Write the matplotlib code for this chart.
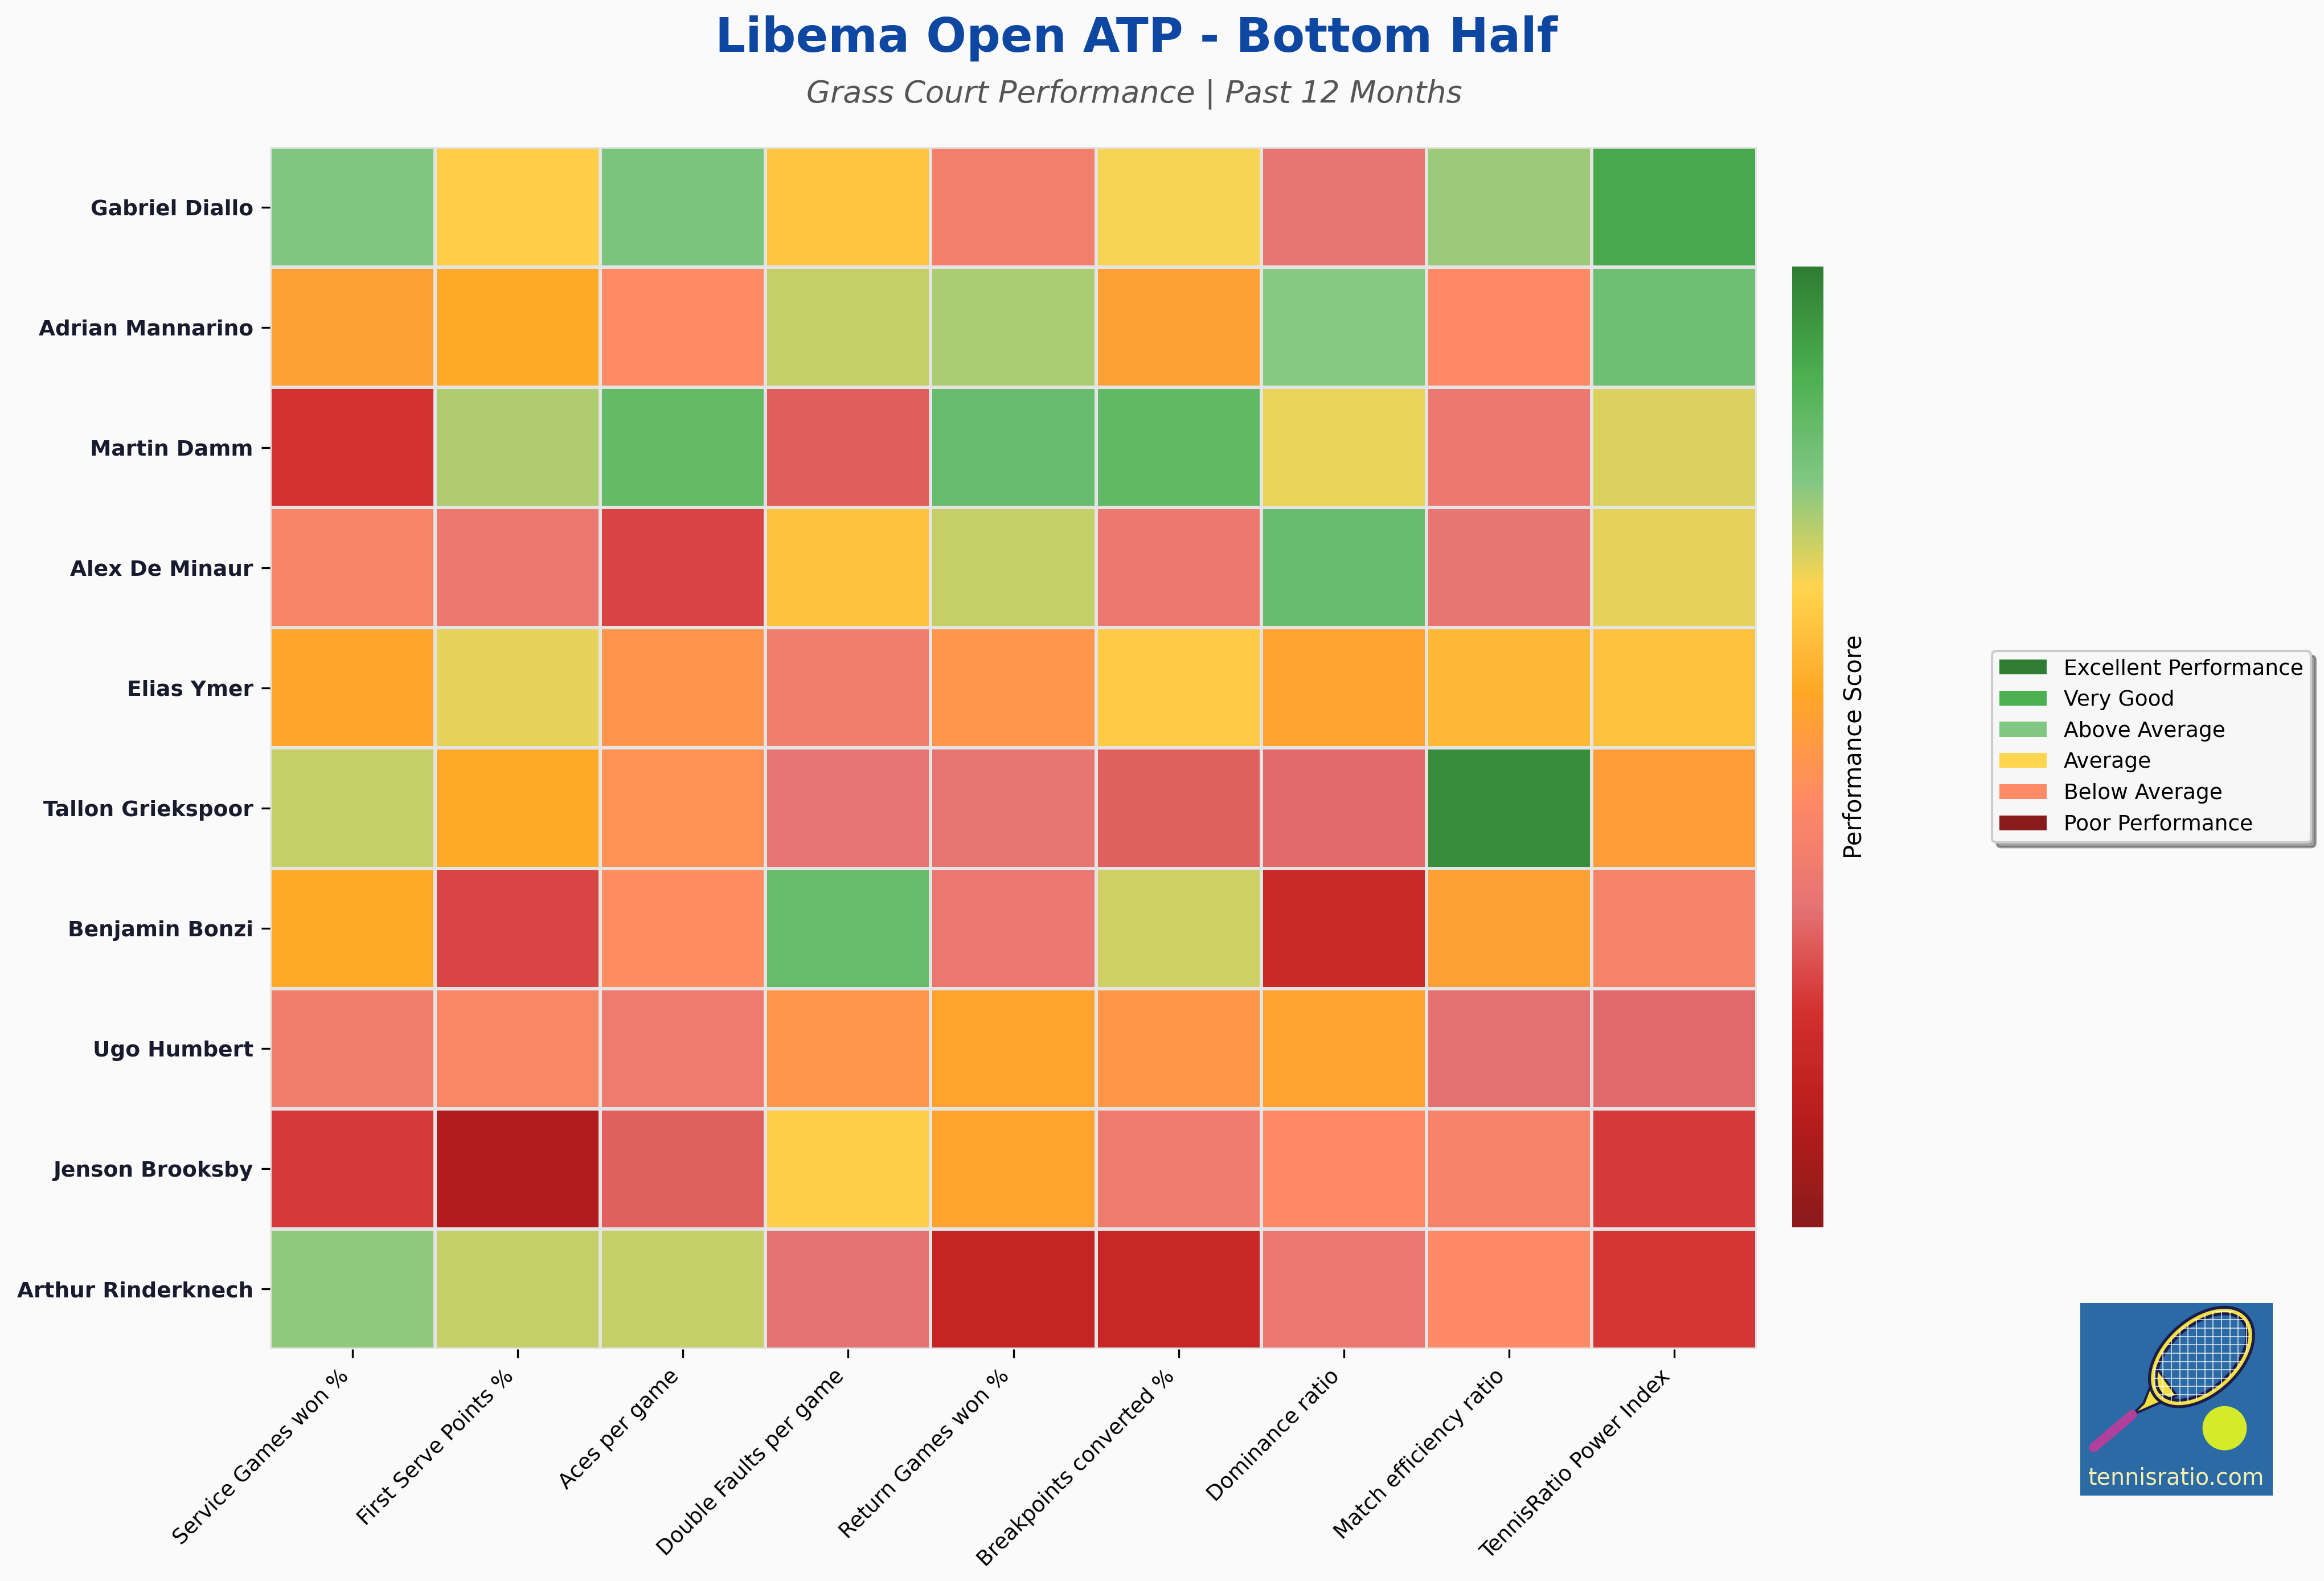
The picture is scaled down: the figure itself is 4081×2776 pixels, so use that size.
import numpy as np
import matplotlib
matplotlib.use("Agg")
import matplotlib.pyplot as plt
from matplotlib.colors import LinearSegmentedColormap
from matplotlib.patches import Patch, Ellipse, Circle, Polygon, Rectangle

# players top to bottom
players = ["Gabriel Diallo", "Adrian Mannarino", "Martin Damm", "Alex De Minaur",
           "Elias Ymer", "Tallon Griekspoor", "Benjamin Bonzi", "Ugo Humbert",
           "Jenson Brooksby", "Arthur Rinderknech"]

metrics = ["Service Games won %", "First Serve Points %", "Aces per game",
           "Double Faults per game", "Return Games won %", "Breakpoints converted %",
           "Dominance ratio", "Match efficiency ratio", "TennisRatio Power Index"]

# performance scores (0 = poor, 1 = excellent), one list per metric
service_games = [0.778, 0.529, 0.230, 0.418, 0.548, 0.718, 0.564, 0.380, 0.242, 0.763]
first_serve = [0.645, 0.564, 0.737, 0.363, 0.690, 0.564, 0.260, 0.425, 0.099, 0.718]
aces = [0.790, 0.446, 0.839, 0.254, 0.486, 0.475, 0.455, 0.372, 0.303, 0.718]
double_faults = [0.628, 0.715, 0.299, 0.621, 0.380, 0.337, 0.830, 0.490, 0.652, 0.333]
return_games = [0.389, 0.741, 0.826, 0.718, 0.490, 0.340, 0.353, 0.540, 0.540, 0.162]
breakpoints = [0.674, 0.529, 0.840, 0.363, 0.638, 0.304, 0.708, 0.494, 0.372, 0.178]
dominance = [0.342, 0.770, 0.687, 0.826, 0.537, 0.320, 0.190, 0.537, 0.444, 0.357]
match_eff = [0.750, 0.444, 0.366, 0.342, 0.597, 0.963, 0.529, 0.330, 0.410, 0.444]
power_index = [0.900, 0.813, 0.698, 0.691, 0.621, 0.520, 0.410, 0.320, 0.242, 0.232]

legend_labels = ["Excellent Performance", "Very Good", "Above Average",
                 "Average", "Below Average", "Poor Performance"]
legend_colors = ["#2E7D32", "#4CAF50", "#81C784", "#FFD54F", "#FF8A65", "#8B1A1A"]

cmap_colors = ["#8B1A1A", "#B71C1C", "#D32F2F", "#E57373", "#FF8A65",
               "#FFA726", "#FFD54F", "#81C784", "#4CAF50", "#2E7D32"]
cmap = LinearSegmentedColormap.from_list("perf", cmap_colors)

scores = np.array([service_games, first_serve, aces, double_faults, return_games,
                   breakpoints, dominance, match_eff, power_index]).T

W, H = 4081, 2776
bg = "#FAFAFA"
fig = plt.figure(figsize=(W / 300, H / 300), dpi=300, facecolor=bg)

# heatmap
ax = fig.add_axes([474 / W, 1 - 2369 / H, (3085 - 474) / W, (2369 - 258) / H])
ax.set_facecolor(bg)
mesh = ax.pcolormesh(scores, cmap=cmap, vmin=0, vmax=1,
                     edgecolors="#e4e4e4", linewidth=1.0)
ax.set_xlim(0, len(metrics))
ax.set_ylim(len(players), 0)
for s in ax.spines.values():
    s.set_visible(False)
ax.set_xticks(np.arange(len(metrics)) + 0.5)
ax.set_xticklabels(metrics, rotation=45, ha="right", fontsize=9)
ax.set_yticks(np.arange(len(players)) + 0.5)
ax.set_yticklabels(players, fontsize=9, fontweight="bold", color="#1a1a2e")

# colorbar
cax = fig.add_axes([3147 / W, 1 - 2155 / H, 55 / W, (2155 - 468) / H])
cb = fig.colorbar(mesh, cax=cax)
cb.outline.set_visible(False)
cb.set_ticks([])
cb.set_label("Performance Score", fontsize=10, labelpad=8)

# titles
fig.text(0.489, 1 - 91 / H, "Libema Open ATP - Bottom Half", fontsize=20,
         fontweight="bold", color="#0D47A1", ha="center", va="baseline")
fig.text(0.488, 1 - 180 / H, "Grass Court Performance | Past 12 Months",
         fontsize=13, style="italic", color="#555555", ha="center", va="baseline")

# legend
handles = [Patch(facecolor=c, label=l) for c, l in zip(legend_colors, legend_labels)]
leg = fig.legend(handles=handles, loc="upper left",
                 bbox_to_anchor=(3498 / W, 1 - 1143 / H), fontsize=9,
                 frameon=True, shadow=True, fancybox=True, labelspacing=0.5,
                 handlelength=2.2, borderpad=0.35, borderaxespad=0)
leg.get_frame().set_facecolor("#f7f7f7")
leg.get_frame().set_edgecolor("#cccccc")

# tennisratio logo
lax = fig.add_axes([3653 / W, 1 - 2626 / H, 338 / W, 338 / H])
lax.set_xlim(0, 1)
lax.set_ylim(0, 1)
lax.axis("off")
lax.add_patch(Rectangle((0, 0), 1, 1, facecolor="#2c6aa5", edgecolor="none"))
lax.plot([0.07, 0.27], [0.25, 0.42], color="#b0409c", lw=4, solid_capstyle="round")
lax.add_patch(Polygon([[0.27, 0.42], [0.33, 0.48], [0.40, 0.66], [0.50, 0.52]],
                      facecolor="#f0e040", edgecolor="#1e1b4b", lw=1))
head = Ellipse((0.63, 0.72), 0.60, 0.36, angle=42, facecolor="none",
               edgecolor="#1e1b4b", lw=4)
lax.add_patch(head)
lax.add_patch(Ellipse((0.63, 0.72), 0.60, 0.36, angle=42, facecolor="none",
                      edgecolor="#f0e040", lw=1.5))
for k in np.linspace(0.3, 0.95, 16):
    ln1, = lax.plot([k, k], [0.4, 1.0], color="white", lw=0.4, alpha=0.8)
    ln2, = lax.plot([0.3, 0.95], [k + 0.05, k + 0.05], color="white", lw=0.4, alpha=0.8)
    ln1.set_clip_path(head)
    ln2.set_clip_path(head)
lax.add_patch(Circle((0.75, 0.35), 0.115, facecolor="#d6ea2c", edgecolor="none"))
lax.text(0.5, 0.09, "tennisratio.com", fontsize=9.5, color="#f3efb0",
         ha="center", va="center")

fig.savefig("out.png", dpi=300, facecolor=bg)
